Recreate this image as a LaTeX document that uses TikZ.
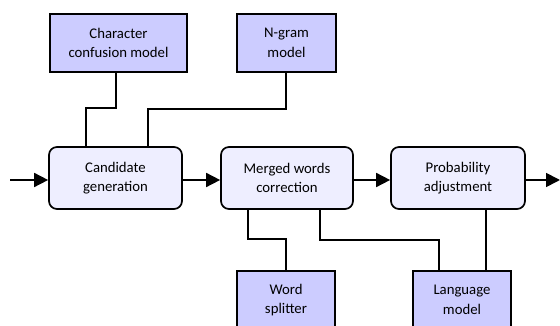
\documentclass[tikz,border=0pt]{standalone}
\usepackage{fontspec}
\setmainfont{Carlito}
\usepackage{tikz}
\usetikzlibrary{arrows.meta}
\usetikzlibrary{positioning}

\definecolor{modelblue}{RGB}{204,204,255}
\definecolor{stepblue}{RGB}{238,238,255}

\begin{document}
\begin{tikzpicture}[x = 0.025cm, y = -0.025cm,
		model/.style = {draw, line width = 1.2pt, fill = modelblue, align = center,
			font = \fontsize{10.5}{14}\selectfont, inner sep = 0pt},
		stepbox/.style = {draw, line width = 1.2pt, fill = stepblue, rounded corners = 0.2cm,
			align = center, font = \fontsize{10.5}{14}\selectfont, inner sep = 0pt,
			minimum height = 62*0.025cm},
		conn/.style = {line width = 1.2pt},
		arr/.style = {line width = 1.2pt, -{Triangle[length = 0.35cm, width = 0.35cm]}}]
			%\draw[help lines] (0,0) grid (560,326);
			\useasboundingbox (0, 0) rectangle (560, 326);
			\clip (0, 0) rectangle (560, 326);
			
			\node[model, minimum width = 137*0.025cm, minimum height = 58*0.025cm] (ccm) at (118.5, 43) {Character\\confusion model};
			\node[model, minimum width = 99*0.025cm, minimum height = 58*0.025cm] (ngram) at (286.5, 43) {N-gram\\model};
			
			\node[stepbox, minimum width = 133*0.025cm] (cand) at (115.5, 178) {Candidate\\generation};
			\node[stepbox, minimum width = 132*0.025cm] (merged) at (287, 178) {Merged words\\correction};
			\node[stepbox, minimum width = 134*0.025cm] (prob) at (458, 178) {Probability\\adjustment};
			
			\node[model, minimum width = 98*0.025cm, minimum height = 58*0.025cm] (split) at (286, 300) {Word\\splitter};
			\node[model, minimum width = 98*0.025cm, minimum height = 58*0.025cm] (lang) at (462, 300) {Language\\model};
			
			\coordinate (in) at (10, 180);
			\coordinate (out) at (560, 180);
			
			\draw[arr] (in) -- (cand.west |- in);
			\draw[arr] (cand.east |- in) -- (merged.west |- in);
			\draw[arr] (merged.east |- in) -- (prob.west |- in);
			\draw[arr] (prob.east |- in) -- (out);
			
			\draw[conn] (ccm.south -| 116,0) |- (86, 108) -- (cand.north -| 86,0);
			\draw[conn] (ngram.south -| 286,0) |- (148, 109) -- (cand.north -| 148,0);
			\draw[conn] (merged.south -| 248,0) |- (286, 239) -- (split.north -| 286,0);
			\draw[conn] (merged.south -| 320,0) |- (439, 240) -- (lang.north -| 439,0);
			\draw[conn] (prob.south -| 486,0) -- (lang.north -| 486,0);
		\end{tikzpicture}
\end{document}
